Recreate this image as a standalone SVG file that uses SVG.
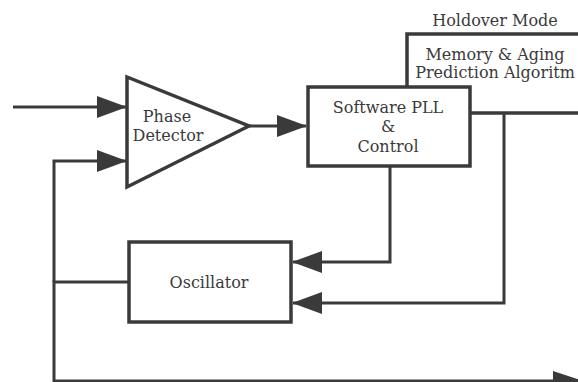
<svg xmlns="http://www.w3.org/2000/svg" width="578" height="382" viewBox="0 0 578 382">
<defs>
<style>
.ln{fill:none;stroke:#3a3a3a;stroke-width:3;stroke-linejoin:miter}
.bx{fill:#fff;stroke:#3a3a3a;stroke-width:3.5}
.t{font-family:"DejaVu Serif","Liberation Serif",serif;font-size:16px;fill:#3a3a3a;text-anchor:middle}
</style>
<marker id="ah" markerUnits="userSpaceOnUse" markerWidth="30" markerHeight="22" viewBox="0 0 30 22" refX="29" refY="11" orient="auto">
<path d="M0,0 L30,11 L0,22 Z" fill="#3a3a3a"/>
</marker>
</defs>
<rect width="578" height="382" fill="#fff"/>
<g id="connectors">
<path class="ln" d="M13,107 H126" marker-end="url(#ah)"/>
<path class="ln" d="M54,282 V161 H126" marker-end="url(#ah)"/>
<path class="ln" d="M249,126 H306" marker-end="url(#ah)"/>
<path class="ln" d="M390,166 V262 H293" marker-end="url(#ah)"/>
<path class="ln" d="M504,113 V303 H293" marker-end="url(#ah)"/>
<path class="ln" d="M129,282 H54 V381 H578"/>
<path d="M553,371 L583,381 L553,391 Z" fill="#3a3a3a"/>
</g>
<g id="holdover">
<rect class="bx" x="407" y="34" width="190" height="79"/>
<text class="t" x="495" y="26">Holdover Mode</text>
<text class="t" x="495" y="60">Memory &amp; Aging</text>
<text class="t" x="495" y="78">Prediction Algoritm</text>
</g>
<g id="phase-detector">
<polygon class="bx" points="127,77 127,187 249,126"/>
<text class="t" x="167" y="122">Phase</text>
<text class="t" x="168" y="141">Detector</text>
</g>
<g id="software-pll">
<rect class="bx" x="308" y="87" width="162" height="79"/>
<text class="t" x="388" y="113">Software PLL</text>
<text class="t" x="388" y="132">&amp;</text>
<text class="t" x="388" y="152">Control</text>
</g>
<g id="oscillator">
<rect class="bx" x="129" y="242" width="162" height="80"/>
<text class="t" x="209" y="288">Oscillator</text>
</g>
</svg>
